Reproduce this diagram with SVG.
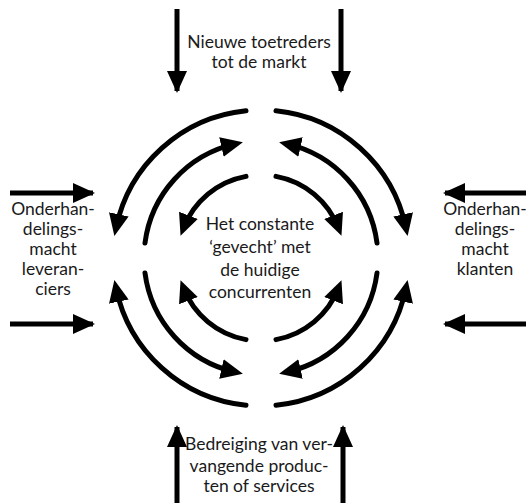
<svg xmlns="http://www.w3.org/2000/svg" width="526" height="503" viewBox="0 0 526 503">
  <style>
    .arc { fill: none; stroke: #000; stroke-width: 5; stroke-linecap: round; }
    .force { fill: none; stroke: #000; stroke-width: 5; stroke-linecap: butt; }
    .lbl { font-family: Lato, "Liberation Sans", sans-serif; font-size: 17.5px; fill: #1a1a1a; text-anchor: middle; }
  </style>
  <defs>
    <marker id="head" viewBox="0 0 22 20" markerUnits="userSpaceOnUse" markerWidth="22" markerHeight="20" refX="14" refY="10" orient="auto">
      <path d="M0,0 L22,10 L0,20 z" fill="#000"/>
    </marker>
    <marker id="headFlat" viewBox="0 0 22 20" markerUnits="userSpaceOnUse" markerWidth="22" markerHeight="20" refX="20" refY="10" orient="auto">
      <path d="M0,0 L22,10 L0,20 z" fill="#000"/>
    </marker>
  </defs>

  <!-- five forces: outside pressure arrows -->
  <g id="connectors">
    <!-- new entrants (top) -->
    <path class="force" d="M177,9 V91" marker-end="url(#headFlat)"/>
    <path class="force" d="M341,9 V91" marker-end="url(#headFlat)"/>
    <!-- substitutes (bottom) -->
    <path class="force" d="M177,503 V427" marker-end="url(#headFlat)"/>
    <path class="force" d="M343,503 V427" marker-end="url(#headFlat)"/>
    <!-- suppliers (left) -->
    <path class="force" d="M10,193 H93" marker-end="url(#headFlat)"/>
    <path class="force" d="M10,324 H93" marker-end="url(#headFlat)"/>
    <!-- buyers (right) -->
    <path class="force" d="M526,193 H445" marker-end="url(#headFlat)"/>
    <path class="force" d="M526,324 H445" marker-end="url(#headFlat)"/>

    <!-- rivalry rings, centre (261,258) -->
    <!-- top-left -->
    <path class="arc" d="M246,110.8 A148,148 0 0 0 116,228.1" marker-end="url(#head)"/>
    <path class="arc" d="M145,243 A117,117 0 0 1 235.1,143.9" marker-end="url(#head)"/>
    <path class="arc" d="M246,176.4 A83,83 0 0 0 183.4,228.4" marker-end="url(#head)"/>
    <!-- top-right -->
    <path class="arc" d="M276,110.8 A148,148 0 0 1 406,228.1" marker-end="url(#head)"/>
    <path class="arc" d="M377,243 A117,117 0 0 0 286.9,143.9" marker-end="url(#head)"/>
    <path class="arc" d="M276,176.4 A83,83 0 0 1 338.6,228.4" marker-end="url(#head)"/>
    <!-- bottom-left -->
    <path class="arc" d="M246,405.2 A148,148 0 0 1 116,287.9" marker-end="url(#head)"/>
    <path class="arc" d="M145,273 A117,117 0 0 0 235.1,372.1" marker-end="url(#head)"/>
    <path class="arc" d="M246,339.6 A83,83 0 0 1 183.4,287.6" marker-end="url(#head)"/>
    <!-- bottom-right -->
    <path class="arc" d="M276,405.2 A148,148 0 0 0 406,287.9" marker-end="url(#head)"/>
    <path class="arc" d="M377,273 A117,117 0 0 1 286.9,372.1" marker-end="url(#head)"/>
    <path class="arc" d="M276,339.6 A83,83 0 0 0 338.6,287.6" marker-end="url(#head)"/>
  </g>

  <g id="entrants">
    <text class="lbl" x="259" y="48">Nieuwe toetreders</text>
    <text class="lbl" x="259" y="68">tot de markt</text>
  </g>

  <g id="suppliers">
    <text class="lbl" x="53" y="215">Onderhan-</text>
    <text class="lbl" x="53" y="235">delings-</text>
    <text class="lbl" x="53" y="255">macht</text>
    <text class="lbl" x="53" y="275">leveran-</text>
    <text class="lbl" x="53" y="295">ciers</text>
  </g>

  <g id="buyers">
    <text class="lbl" x="485" y="215">Onderhan-</text>
    <text class="lbl" x="485" y="235">delings-</text>
    <text class="lbl" x="485" y="255">macht</text>
    <text class="lbl" x="485" y="275">klanten</text>
  </g>

  <g id="rivalry">
    <text class="lbl" x="260" y="230">Het constante</text>
    <text class="lbl" x="260" y="253">‘gevecht’ met</text>
    <text class="lbl" x="260" y="276">de huidige</text>
    <text class="lbl" x="260" y="298">concurrenten</text>
  </g>

  <g id="substitutes">
    <text class="lbl" x="259" y="450">Bedreiging van ver-</text>
    <text class="lbl" x="259" y="472">vangende produc-</text>
    <text class="lbl" x="259" y="492">ten of services</text>
  </g>
</svg>
